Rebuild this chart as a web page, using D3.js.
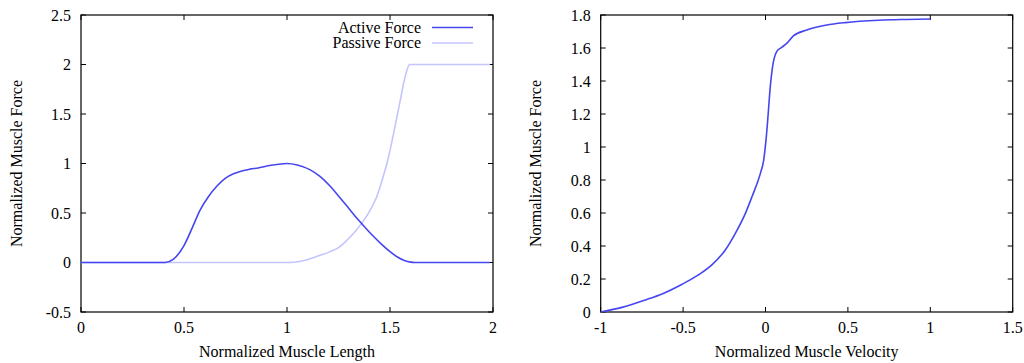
<!DOCTYPE html>
<html><head><meta charset="utf-8">
<script src="https://cdn.jsdelivr.net/npm/d3@7"></script>
<style>
html,body{margin:0;padding:0;background:#fff;}
svg text{font-family:"Liberation Serif","Times New Roman",serif;fill:#000;}
</style></head>
<body><svg id="c" width="1024" height="363"></svg>
<script>
// Left chart: force-length
const activeLen   = [0, 0.30, 0.408, 0.449, 0.497, 0.540, 0.578, 0.620, 0.659, 0.700, 0.740, 0.780, 0.821, 0.860, 0.902, 0.950, 1.000, 1.050, 1.113, 1.160, 1.210, 1.250, 1.291, 1.330, 1.364, 1.410, 1.453, 1.500, 1.534, 1.570, 1.600, 1.620, 1.800, 1.985];
const activeForce = [0, 0,    0,     0.034, 0.160, 0.350, 0.530, 0.670, 0.770, 0.850, 0.896, 0.925, 0.943, 0.955, 0.975, 0.990, 1.000, 0.985, 0.936, 0.870, 0.770, 0.672, 0.570, 0.470, 0.390, 0.285, 0.196, 0.110, 0.058, 0.020, 0.004, 0,     0,     0];
const passiveLen   = [0, 0.50, 1.000, 1.016, 1.060, 1.097, 1.150, 1.210, 1.250, 1.291, 1.330, 1.364, 1.404, 1.436, 1.453, 1.470, 1.485, 1.501, 1.517, 1.534, 1.550, 1.565, 1.574, 1.585, 1.595, 1.700, 1.985];
const passiveForce = [0, 0,    0,     0,     0.010, 0.027, 0.065, 0.110, 0.150, 0.225, 0.310, 0.400, 0.530, 0.667, 0.770, 0.890, 1.000, 1.140, 1.300, 1.475, 1.640, 1.800, 1.880, 1.960, 2.000, 2.000, 2.000];
const lenXTicks = [0, 0.5, 1, 1.5, 2];
const lenYTicks = [-0.5, 0, 0.5, 1, 1.5, 2, 2.5];

// Right chart: force-velocity
const velocity = [-1, -0.871, -0.729, -0.628, -0.506, -0.405, -0.324, -0.244, -0.183, -0.122, -0.082, -0.031, -0.011, 0.003, 0.015, 0.029, 0.043, 0.068, 0.098, 0.129, 0.169, 0.250, 0.371, 0.485, 0.687, 0.850, 1.0];
const velForce = [0, 0.028, 0.073, 0.109, 0.168, 0.226, 0.287, 0.376, 0.477, 0.598, 0.699, 0.840, 0.921, 1.042, 1.184, 1.366, 1.487, 1.578, 1.604, 1.628, 1.673, 1.709, 1.739, 1.754, 1.768, 1.773, 1.776];
const velXTicks = [-1, -0.5, 0, 0.5, 1, 1.5];
const velYTicks = [0, 0.2, 0.4, 0.6, 0.8, 1, 1.2, 1.4, 1.6, 1.8];

const svg = d3.select('#c');
const FS = 16;

function panel(opt){
  const g = svg.append('g');
  const x = d3.scaleLinear().domain(opt.xd).range([opt.l, opt.r]);
  const y = d3.scaleLinear().domain(opt.yd).range([opt.b, opt.t]);
  g.append('rect').attr('x', opt.l).attr('y', opt.t).attr('width', opt.r-opt.l).attr('height', opt.b-opt.t)
    .attr('fill','none').attr('stroke','#000').attr('stroke-width',1.2);
  const tl = 5;
  opt.xt.forEach(v=>{
    g.append('line').attr('x1',x(v)).attr('x2',x(v)).attr('y1',opt.b).attr('y2',opt.b-tl).attr('stroke','#000');
    g.append('line').attr('x1',x(v)).attr('x2',x(v)).attr('y1',opt.t).attr('y2',opt.t+tl).attr('stroke','#000');
    g.append('text').attr('x',x(v)).attr('y',opt.b+21).attr('text-anchor','middle').attr('font-size',FS).text(String(v));
  });
  opt.yt.forEach(v=>{
    g.append('line').attr('x1',opt.l).attr('x2',opt.l+tl).attr('y1',y(v)).attr('y2',y(v)).attr('stroke','#000');
    g.append('line').attr('x1',opt.r).attr('x2',opt.r-tl).attr('y1',y(v)).attr('y2',y(v)).attr('stroke','#000');
    g.append('text').attr('x',opt.l-10).attr('y',y(v)+5.5).attr('text-anchor','end').attr('font-size',FS).text(String(v));
  });
  g.append('text').attr('x',(opt.l+opt.r)/2).attr('y',357).attr('text-anchor','middle').attr('font-size',FS).text(opt.xl);
  g.append('text').attr('transform',`translate(${opt.yx},${(opt.t+opt.b)/2}) rotate(-90)`).attr('text-anchor','middle').attr('font-size',FS).text(opt.yl);
  return {g,x,y};
}

const L = panel({l:81, r:493, t:15, b:312, xd:[0,2], yd:[-0.5,2.5], xt:lenXTicks, yt:lenYTicks,
  xl:'Normalized Muscle Length', yl:'Normalized Muscle Force', yx:22});
const lineL = d3.line().x(d=>L.x(d[0])).y(d=>L.y(d[1])).curve(d3.curveMonotoneX);
L.g.append('path').datum(passiveLen.map((v,i)=>[v,passiveForce[i]])).attr('d',lineL)
  .attr('fill','none').attr('stroke','#c4c4ff').attr('stroke-width',1.6);
L.g.append('path').datum(activeLen.map((v,i)=>[v,activeForce[i]])).attr('d',lineL)
  .attr('fill','none').attr('stroke','#4646f0').attr('stroke-width',1.6);
const leg = [['Active Force','#4646f0'],['Passive Force','#c4c4ff']];
leg.forEach((d,i)=>{
  const yy = 27.5 + i*15.5;
  L.g.append('text').attr('x',421).attr('y',yy+5).attr('text-anchor','end').attr('font-size',FS).text(d[0]);
  L.g.append('line').attr('x1',432).attr('x2',473).attr('y1',yy).attr('y2',yy).attr('stroke',d[1]).attr('stroke-width',1.6);
});

const R = panel({l:600.7, r:1012.7, t:15, b:312, xd:[-1,1.5], yd:[0,1.8], xt:velXTicks, yt:velYTicks,
  xl:'Normalized Muscle Velocity', yl:'Normalized Muscle Force', yx:541});
const lineR = d3.line().x(d=>R.x(d[0])).y(d=>R.y(d[1])).curve(d3.curveMonotoneX);
R.g.append('path').datum(velocity.map((v,i)=>[v,velForce[i]])).attr('d',lineR)
  .attr('fill','none').attr('stroke','#4646f0').attr('stroke-width',1.6);
</script></body></html>
